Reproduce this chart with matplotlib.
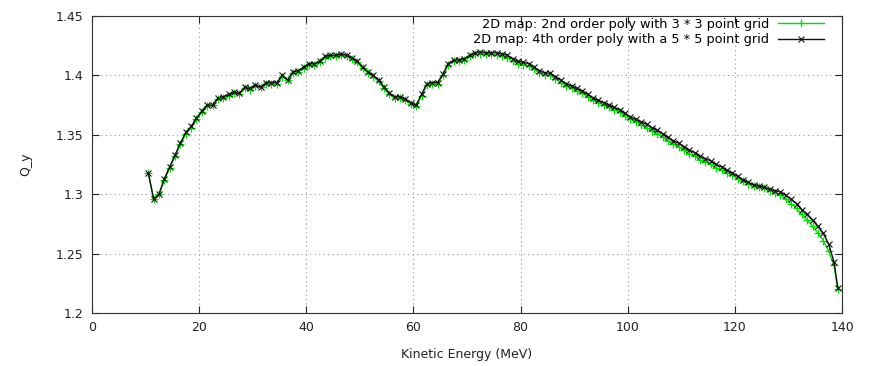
import matplotlib
matplotlib.use('Agg')
import matplotlib.pyplot as plt

# kinetic energy (MeV)
energy = [10.5, 11.5, 12.5, 13.5, 14.5, 15.5, 16.5, 17.5, 18.5, 19.5,
          20.5, 21.5, 22.5, 23.5, 24.5, 25.5, 26.5, 27.5, 28.5, 29.5,
          30.5, 31.5, 32.5, 33.5, 34.5, 35.5, 36.5, 37.5, 38.5, 39.5,
          40.5, 41.5, 42.5, 43.5, 44.5, 45.5, 46.5, 47.5, 48.5, 49.5,
          50.5, 51.5, 52.5, 53.5, 54.5, 55.5, 56.5, 57.5, 58.5, 59.5,
          60.5, 61.5, 62.5, 63.5, 64.5, 65.5, 66.5, 67.5, 68.5, 69.5,
          70.5, 71.5, 72.5, 73.5, 74.5, 75.5, 76.5, 77.5, 78.5, 79.5,
          80.5, 81.5, 82.5, 83.5, 84.5, 85.5, 86.5, 87.5, 88.5, 89.5,
          90.5, 91.5, 92.5, 93.5, 94.5, 95.5, 96.5, 97.5, 98.5, 99.5,
          100.5, 101.5, 102.5, 103.5, 104.5, 105.5, 106.5, 107.5, 108.5, 109.5,
          110.5, 111.5, 112.5, 113.5, 114.5, 115.5, 116.5, 117.5, 118.5, 119.5,
          120.5, 121.5, 122.5, 123.5, 124.5, 125.5, 126.5, 127.5, 128.5, 129.5,
          130.5, 131.5, 132.5, 133.5, 134.5, 135.5, 136.5, 137.5, 138.5, 139.2]

# 2nd order poly, 3*3 grid
qy_2nd = [1.318, 1.296, 1.300, 1.312, 1.322, 1.332, 1.342, 1.351, 1.356, 1.363,
          1.369, 1.374, 1.375, 1.380, 1.381, 1.383, 1.385, 1.384, 1.389, 1.388,
          1.391, 1.390, 1.393, 1.393, 1.393, 1.399, 1.396, 1.402, 1.403, 1.406,
          1.409, 1.409, 1.411, 1.415, 1.416, 1.416, 1.417, 1.416, 1.414, 1.411,
          1.406, 1.402, 1.399, 1.395, 1.389, 1.384, 1.381, 1.381, 1.379, 1.376,
          1.374, 1.383, 1.392, 1.393, 1.393, 1.400, 1.409, 1.412, 1.412, 1.413,
          1.416, 1.418, 1.418, 1.418, 1.418, 1.417, 1.416, 1.415, 1.412, 1.410,
          1.409, 1.408, 1.405, 1.402, 1.400, 1.400, 1.397, 1.394, 1.391, 1.389,
          1.387, 1.385, 1.382, 1.379, 1.377, 1.375, 1.373, 1.371, 1.369, 1.366,
          1.363, 1.361, 1.358, 1.356, 1.353, 1.351, 1.348, 1.345, 1.342, 1.340,
          1.337, 1.334, 1.332, 1.329, 1.327, 1.325, 1.322, 1.320, 1.318, 1.316,
          1.313, 1.311, 1.309, 1.307, 1.306, 1.305, 1.303, 1.301, 1.299, 1.296,
          1.292, 1.288, 1.283, 1.278, 1.273, 1.267, 1.261, 1.252, 1.240, 1.220]

# 4th order poly, 5*5 grid
qy_4th = [1.318, 1.296, 1.300, 1.313, 1.323, 1.333, 1.343, 1.352, 1.357, 1.364,
          1.370, 1.375, 1.375, 1.381, 1.382, 1.384, 1.386, 1.385, 1.390, 1.389,
          1.392, 1.390, 1.394, 1.394, 1.394, 1.400, 1.396, 1.403, 1.404, 1.407,
          1.410, 1.410, 1.412, 1.416, 1.417, 1.417, 1.418, 1.417, 1.415, 1.412,
          1.407, 1.403, 1.400, 1.396, 1.390, 1.385, 1.382, 1.382, 1.380, 1.377,
          1.375, 1.384, 1.393, 1.394, 1.394, 1.401, 1.410, 1.413, 1.413, 1.414,
          1.417, 1.419, 1.420, 1.419, 1.419, 1.419, 1.418, 1.417, 1.414, 1.412,
          1.411, 1.410, 1.407, 1.404, 1.402, 1.402, 1.399, 1.396, 1.393, 1.391,
          1.389, 1.387, 1.384, 1.381, 1.379, 1.377, 1.375, 1.373, 1.371, 1.368,
          1.365, 1.363, 1.361, 1.359, 1.356, 1.354, 1.351, 1.348, 1.345, 1.343,
          1.340, 1.337, 1.335, 1.332, 1.330, 1.328, 1.325, 1.323, 1.320, 1.318,
          1.315, 1.312, 1.310, 1.308, 1.307, 1.306, 1.304, 1.303, 1.302, 1.299,
          1.296, 1.292, 1.287, 1.283, 1.278, 1.273, 1.267, 1.258, 1.243, 1.221]

x_ticks = [0, 20, 40, 60, 80, 100, 120, 140]
y_ticks = [1.2, 1.25, 1.3, 1.35, 1.4, 1.45]
y_labels = ['1.2', '1.25', '1.3', '1.35', '1.4', '1.45']

plt.rcParams['font.family'] = ['DejaVu Sans']
plt.rcParams['font.size'] = 9

fig = plt.figure(figsize=(8.69, 3.66), dpi=100)
ax = fig.add_axes([0.1059, 0.1448, 0.8631, 0.8115])

ax.plot(energy, qy_2nd, color='#00e000', marker='+', markersize=6,
        markeredgewidth=0.9, linewidth=1,
        label='2D map: 2nd order poly with 3 * 3 point grid')
ax.plot(energy, qy_4th, color='#111111', marker='x', markersize=4.5,
        markeredgewidth=0.8, linewidth=1,
        label='2D map: 4th order poly with a 5 * 5 point grid')

ax.set_xlim(0, 140)
ax.set_ylim(1.2, 1.45)
ax.set_xticks(x_ticks)
ax.set_yticks(y_ticks)
ax.set_yticklabels(y_labels)
ax.tick_params(direction='in', top=True, right=True, length=5,
               labelsize=9, colors='#222222', pad=6)
ax.grid(True, linestyle=(0, (1, 3)), color='#999999', linewidth=0.8)
for s in ax.spines.values():
    s.set_color('#333333')

ax.set_xlabel('Kinetic Energy (MeV)', fontsize=9, color='#222222', labelpad=10)
ax.set_ylabel('Q_y', fontsize=9, color='#222222', labelpad=17)

ax.legend(loc='upper right', bbox_to_anchor=(0.98, 1.003), frameon=False,
          markerfirst=False, handlelength=3.6, borderaxespad=0.1,
          borderpad=0.1, labelspacing=0.2, fontsize=9.3, handletextpad=0.7)

fig.savefig('out.png', dpi=100)
